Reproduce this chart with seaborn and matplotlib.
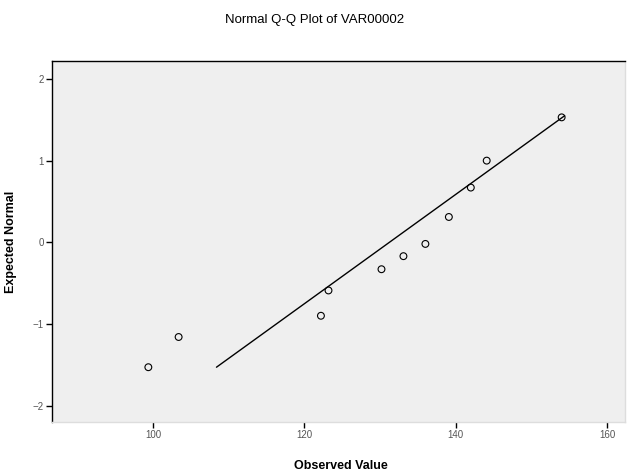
"""Normal Q-Q plot of VAR00002 recreated with seaborn."""
import matplotlib
matplotlib.use('Agg')
import matplotlib.pyplot as plt
import pandas as pd
import seaborn as sns

observed = [99.4, 103.4, 122.2, 123.2, 130.2, 133.1, 136.0, 139.1, 142.0, 144.1, 154.0]
expected = [-1.53, -1.16, -0.90, -0.59, -0.33, -0.17, -0.02, 0.31, 0.67, 1.00, 1.53]

# reference line end points
line_x = [108.4, 154.4]
line_y = [-1.53, 1.55]

x_ticks = [100, 120, 140, 160]
y_ticks = [-2, -1, 0, 1, 2]


def make_plot() -> None:
    sns.set_theme(style='white')
    plt.rcParams['font.family'] = ['Liberation Sans', 'DejaVu Sans']

    fig = plt.figure(figsize=(6.29, 4.73), dpi=100)
    ax = fig.add_axes([0.083, 0.108, 0.911, 0.763])
    ax.set_facecolor('#efefef')

    points = pd.DataFrame({'observed': observed, 'expected': expected})
    line = pd.DataFrame({'x': line_x, 'y': line_y})

    sns.lineplot(data=line, x='x', y='y', ax=ax, color='black',
                 linewidth=1.0, estimator=None, sort=False)
    sns.scatterplot(data=points, x='observed', y='expected', ax=ax,
                    marker='o', s=24, facecolor='none', edgecolor='black',
                    linewidth=0.8, zorder=3)

    ax.set_xlim(86.7, 162.4)
    ax.set_ylim(-2.2, 2.22)
    ax.set_xticks(x_ticks)
    ax.set_yticks(y_ticks)
    ax.tick_params(axis='both', which='both', direction='out', length=4,
                   width=1, color='black', labelsize=7, labelcolor='#555555',
                   bottom=True, left=True, pad=2)

    for side in ['left', 'top', 'right', 'bottom']:
        ax.spines[side].set_color('black')
        ax.spines[side].set_linewidth(1.0)
    ax.spines['right'].set_color('#dddddd')
    ax.spines['bottom'].set_color('#dddddd')

    ax.set_xlabel('Observed Value', fontsize=9, fontweight='bold', color='black')
    ax.set_ylabel('Expected Normal', fontsize=9, fontweight='bold', color='black')
    ax.xaxis.set_label_coords(0.503, -0.105)
    ax.yaxis.set_label_coords(-0.062, 0.5)
    fig.suptitle('Normal Q-Q Plot of VAR00002', fontsize=9.5, y=0.97,
                 color='black')

    fig.savefig('out.png', dpi=100)


if __name__ == '__main__':
    make_plot()
